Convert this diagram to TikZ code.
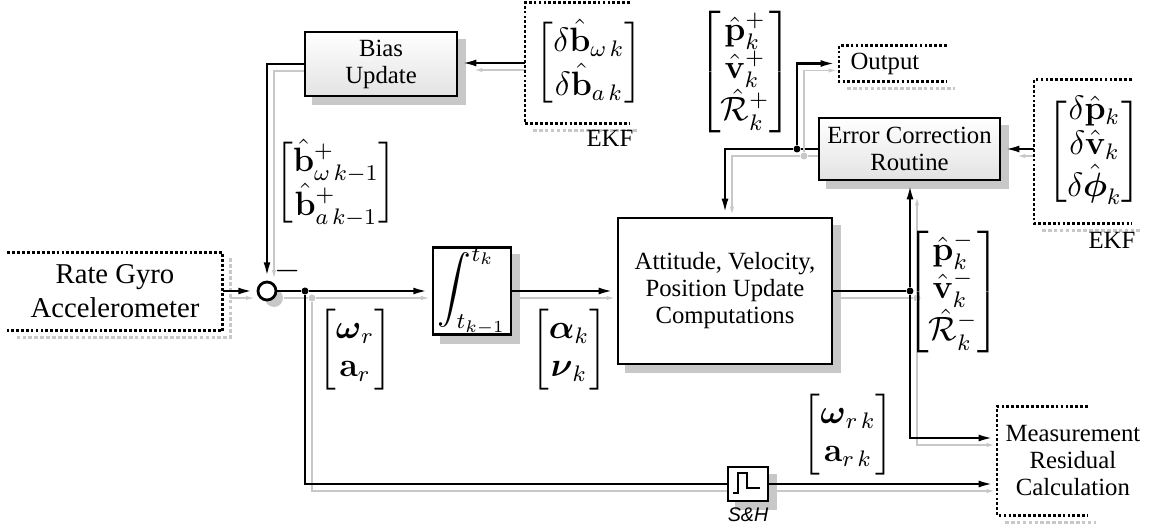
\documentclass[tikz,border=0pt]{standalone}
\usepackage{amsmath}
\usepackage[no-math]{fontspec}
\setmainfont{Liberation Serif}
\newfontfamily\shfont{Liberation Sans}
\usetikzlibrary{arrows.meta}
\pgfdeclarelayer{background}
\pgfsetlayers{background,main}
\definecolor{shgray}{RGB}{200,200,200}
\newcommand{\pxl}{0.0125cm}
\tikzset{
  txt/.style={font=\fontsize{8.8}{9.6}\selectfont, align=center},
  mat/.style={font=\fontsize{11.5}{13.5}\selectfont, inner sep=0pt},
  pmat/.style={font=\fontsize{11.5}{12.2}\selectfont, inner sep=0pt},
  blk/.style={draw, line width=0.7pt, txt, inner sep=0pt},
  grad/.style={top color=white, bottom color=gray!22},
  fr/.style={fill=white, inner ysep=0pt, align=center},
  frame/.style={line width=1pt, dash pattern=on 1pt off 0.75pt},
  frameshadow/.style={draw=shgray, line width=1pt, dash pattern=on 1.3pt off 0.8pt},
  wshadow/.style={preaction={draw=shgray, transform canvas={xshift=0.0875cm,yshift=-0.0875cm}}},
  sig/.style={line width=1.05pt, -{Latex[length=6.5pt,width=2.3pt]}, wshadow},
  ln/.style={line width=0.5pt, wshadow},
  midln/.style={line width=0.7pt, wshadow},
  dot/.style={circle, fill, inner sep=0pt, minimum size=7*\pxl}
}
\begin{document}
\begin{tikzpicture}[x=0.0125cm, y=-0.0125cm]
\useasboundingbox (0,0) rectangle (1152,532);

% blocks
\node[fr, inner xsep=0pt, minimum width=214*\pxl, minimum height=77*\pxl,
      font=\fontsize{10.2}{12}\selectfont] (rate) at (115,291.5) {Rate Gyro\\Accelerometer};
\node[circle, draw, fill=white, line width=1pt, minimum size=18*\pxl, inner sep=0pt] (sum) at (267,291) {};
\node[mat] (minus) at (288,271) {$-$};
\node[blk, grad, minimum width=152*\pxl, minimum height=64*\pxl] (bias) at (381,64) {Bias\\Update};
\node[fr, mat, anchor=west, inner xsep=10*\pxl, minimum height=120*\pxl] (ekfb) at (525,63)
  {$\begin{bmatrix}\delta\hat{\mathbf b}_{\omega\,k}\\ \delta\hat{\mathbf b}_{a\,k}\end{bmatrix}$};
\node[blk, fill=white, line width=1pt, mat, minimum width=78*\pxl, minimum height=77*\pxl] (integ) at (472,291)
  {$\displaystyle\int_{t_{k-1}}^{t_k}$};
\node[blk, fill=white, minimum width=214*\pxl, minimum height=146*\pxl] (att) at (725,291)
  {Attitude, Velocity,\\Position Update\\Computations};
\node[blk, grad, minimum width=181*\pxl, minimum height=62*\pxl] (err) at (909.5,149) {Error Correction\\Routine};
\node[fr, txt, anchor=west, inner xsep=11*\pxl, minimum height=35*\pxl] (out) at (839,63.5) {Output};
\node[fr, pmat, anchor=west, inner xsep=13*\pxl, minimum height=143*\pxl] (ekfp) at (1034,151.5)
  {$\begin{bmatrix}\delta\hat{\mathbf p}_{k}\\ \delta\hat{\mathbf v}_{k}\\ \delta\hat{\boldsymbol\phi}_{k}\end{bmatrix}$};
\node[fr, txt, anchor=west, inner xsep=8*\pxl, minimum height=108*\pxl] (meas) at (997,461)
  {Measurement\\Residual\\Calculation};
\node[blk, fill=white, minimum width=40*\pxl, minimum height=34*\pxl] (sh) at (748,484) {};
\node[font=\shfont\itshape\fontsize{7}{8}\selectfont, inner sep=0pt] (shlbl) at (748,515) {S\&H};
\node[txt] (ekf1) at (610,138) {EKF};
\node[txt] (ekf2) at (1112,240) {EKF};

% junctions
\node[dot] (d1) at (305,291) {};
\node[dot] (d2) at (910,291) {};
\node[dot] (d3) at (797,149) {};

% signal labels
\node[mat] (bplus) at (336,183)
  {$\begin{bmatrix}\hat{\mathbf b}^{+}_{\omega\,k-1}\\ \hat{\mathbf b}^{+}_{a\,k-1}\end{bmatrix}$};
\node[pmat] (pplus) at (745,72)
  {$\begin{bmatrix}\hat{\mathbf p}^{+}_{k}\\ \hat{\mathbf v}^{+}_{k}\\ \hat{\mathcal R}^{+}_{k}\end{bmatrix}$};
\node[pmat] (pminus) at (953,292)
  {$\begin{bmatrix}\hat{\mathbf p}^{-}_{k}\\ \hat{\mathbf v}^{-}_{k}\\ \hat{\mathcal R}^{-}_{k}\end{bmatrix}$};
\node[mat] (wr) at (355,350) {$\begin{bmatrix}\boldsymbol\omega_{r}\\ \mathbf a_{r}\end{bmatrix}$};
\node[mat] (ak) at (569,350) {$\begin{bmatrix}\boldsymbol\alpha_{k}\\ \boldsymbol\nu_{k}\end{bmatrix}$};
\node[mat] (wrk) at (848,435) {$\begin{bmatrix}\boldsymbol\omega_{r\,k}\\ \mathbf a_{r\,k}\end{bmatrix}$};

% open dotted frames
\draw[frame] (rate.north west) -- (rate.north east) -- (rate.south east) -- (rate.south west);
\foreach \n/\len in {ekfb/105, out/108, ekfp/98, meas/91}
  \draw[frame] ([shift={(\len,0)}]\n.north west) -- (\n.north west) -- (\n.south west) -- ++(\len,0);

% sample and hold symbol
\draw[line width=0.7pt] ([shift={(-15,9)}]sh.center) -- ++(5,0) -- ++(0,-20) -- ++(9,0) -- ++(0,15) -- ++(13,0);

\begin{pgfonlayer}{background}
  \foreach \n in {bias,integ,att,err,sh}
    \fill[shgray] ([shift={(8,8)}]\n.north west) rectangle ([shift={(8,8)}]\n.south east);
  \fill[shgray] ([shift={(7,7)}]sum.center) circle[radius=9];
  \foreach \n in {d1,d2,d3}
    \fill[shgray] ([shift={(7,7)}]\n.center) circle[radius=3.5];
  \draw[frameshadow] ([shift={(8,6)}]rate.north east) -- ([shift={(8,7)}]rate.south east) -- ([shift={(8,7)}]rate.south west);
  \foreach \n/\len in {ekfb/105, out/108, ekfp/98, meas/91}
    \draw[frameshadow] ([shift={(8,7)}]\n.south west) -- ++(\len,0);

  % connectors
  \draw[sig] (rate.east |- sum) -- (sum.west);
  \draw[sig] (bias.west) -| (sum.north);
  \draw[sig] (ekfb.west) -- (ekfb.west -| bias.east);
  \draw[ln] (sum.east) -- (d1);
  \draw[sig] (d1) -- (integ.west);
  \draw[sig] (integ.east) -- (att.west);
  \draw[ln] (att.east) -- (d2);
  \draw[sig] (d2) -- (d2 |- err.south);
  \draw[sig] (d2) |- ([shift={(0,-23)}]meas.west);
  \draw[ln] (err.west) -- (d3);
  \draw[sig] (d3) -| (att.north);
  \draw[sig] (d3) |- (out.west);
  \draw[midln] (d1) |- (sh.west);
  \draw[sig] (sh.east) -- (sh.east -| meas.west);
  \draw[sig] (ekfp.west |- err.east) -- (err.east);
\end{pgfonlayer}
\end{tikzpicture}
\end{document}
